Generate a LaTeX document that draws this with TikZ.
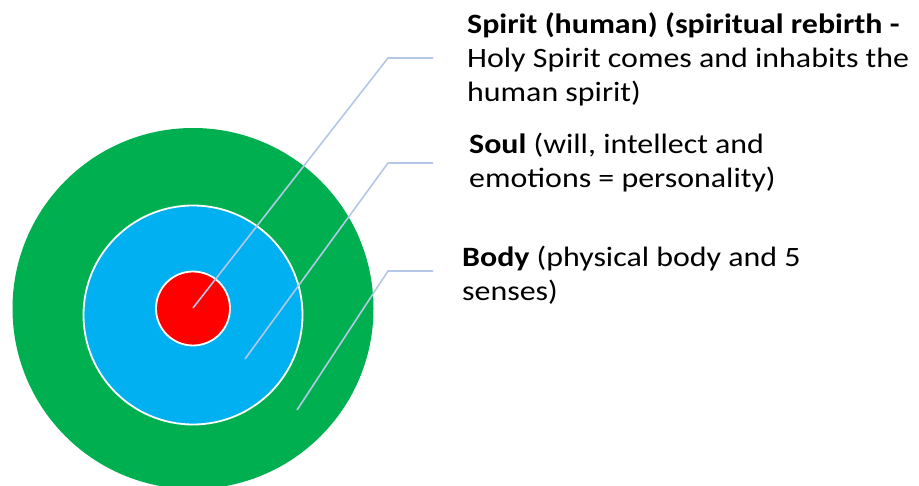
\documentclass[tikz,border=0pt]{standalone}
\usepackage{fontspec}
\setmainfont{Carlito}[FakeStretch=1.14]
\definecolor{bodygreen}{HTML}{00B050}
\definecolor{soulblue}{HTML}{00B0F0}
\definecolor{spiritred}{HTML}{FF0000}
\definecolor{leader}{HTML}{B4C7E7}
\begin{document}
\begin{tikzpicture}[x=1pt,y=-1pt,
  ring/.style={circle,inner sep=0pt,outer sep=0pt},
  lbl/.style={anchor=base west,align=left,inner sep=0pt,font=\fontsize{28}{34}\selectfont},
  leadline/.style={draw=leader,line width=1.6pt}]
\useasboundingbox (0,0) rectangle (919,486);
\node[ring,fill=bodygreen,minimum size=361pt] (body) at (193,308.5) {};
\node[ring,fill=soulblue,draw=white,line width=1.8pt,minimum size=219pt] (soul) at (193,315) {};
\node[ring,fill=spiritred,draw=white,line width=1.8pt,minimum size=74pt] (spirit) at (193,308.5) {};

\node[lbl] (tspirit) at (467,102) {\textbf{Spirit (human) (spiritual rebirth -}\\Holy Spirit comes and inhabits the\\human spirit)};
\node[lbl] (tsoul) at (469,188) {\textbf{Soul} (will, intellect and\\emotions = personality)};
\node[lbl] (tbody) at (462,301) {\textbf{Body} (physical body and 5\\senses)};

\coordinate (p1) at (193,308);
\coordinate (b1) at (388,58);
\coordinate (e1) at (433,58);
\coordinate (p2) at (245,359);
\coordinate (b2) at (388,163);
\coordinate (e2) at (433,163);
\coordinate (p3) at (297,410);
\coordinate (b3) at (388,271);
\coordinate (e3) at (433,271);
\draw[leadline] (p1) -- (b1) -- (e1);
\draw[leadline] (p2) -- (b2) -- (e2);
\draw[leadline] (p3) -- (b3) -- (e3);
\end{tikzpicture}
\end{document}
